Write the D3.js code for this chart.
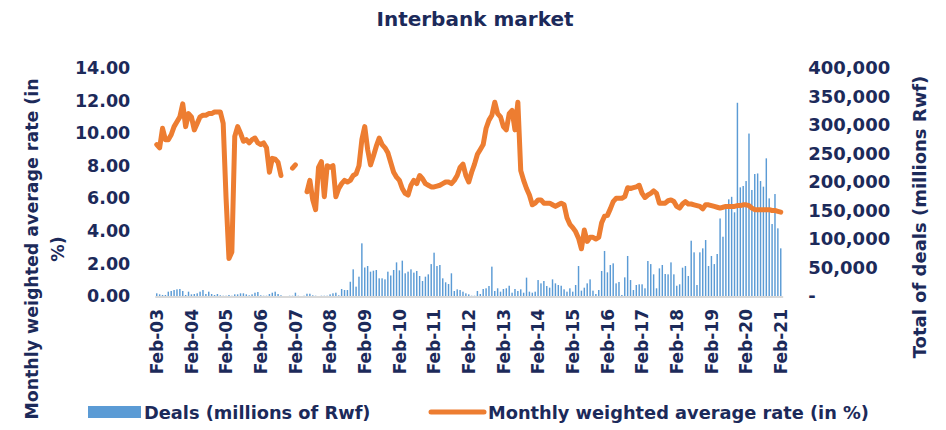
<!DOCTYPE html>
<html>
<head>
<meta charset="utf-8">
<script src="https://cdn.jsdelivr.net/npm/d3@7"></script>
<style>
  html, body { margin: 0; padding: 0; background: #ffffff; }
  svg { display: block; }
  text { font-family: "DejaVu Sans", sans-serif; font-weight: bold; fill: #1c2a5a; }
</style>
</head>
<body>
<svg id="chart" width="946" height="430"></svg>
<script>
// ---------- DATA ----------
const startYear = 2003;          // first category: Feb-03
const monthNames = ["Jan","Feb","Mar","Apr","May","Jun","Jul","Aug","Sep","Oct","Nov","Dec"];
const categoryCount = 217;       // Feb-03 .. Feb-21

const xTickLabels = ["Feb-03","Feb-04","Feb-05","Feb-06","Feb-07","Feb-08","Feb-09","Feb-10","Feb-11",
  "Feb-12","Feb-13","Feb-14","Feb-15","Feb-16","Feb-17","Feb-18","Feb-19","Feb-20","Feb-21"];
const leftTicks = [0, 2, 4, 6, 8, 10, 12, 14];
const rightTicks = [0, 50000, 100000, 150000, 200000, 250000, 300000, 350000, 400000];

// Monthly weighted average rate (in %), null = no data
const rates = [
  9.3, 9.1, 10.3, 9.6, 9.6, 9.9, 10.4, 10.7, 11.0, 11.8,
  10.4, 11.2, 11.0, 10.2, 10.6, 11.0, 11.1, 11.1, 11.2, 11.2,
  11.3, 11.3, 11.3, 10.6, 6.0, 2.3, 2.7, 9.8, 10.4, 10.0,
  9.5, 9.6, 9.4, 9.6, 9.7, 9.4, 9.3, 9.4, 9.1, 7.6,
  8.45, 8.4, 8.2, 7.4, null, null, null, 7.85, 8.05, null,
  null, null, 6.4, 7.1, 5.9, 5.3, 7.9, 8.25, 6.1, 8.0,
  7.9, 8.0, 6.1, 6.6, 6.9, 7.1, 7.0, 7.1, 7.4, 7.5,
  8.0, 9.6, 10.4, 9.0, 8.05, 8.6, 9.2, 9.7, 9.3, 9.1,
  8.8, 8.2, 7.6, 7.3, 7.1, 6.6, 6.3, 6.2, 6.8, 7.1,
  6.9, 7.4, 7.2, 6.9, 6.8, 6.7, 6.7, 6.75, 6.8, 6.9,
  7.0, 7.0, 6.9, 7.1, 7.4, 7.9, 8.1, 7.4, 7.0, 7.6,
  8.1, 8.7, 9.0, 9.3, 10.3, 10.8, 11.1, 11.9, 11.2, 11.0,
  10.4, 10.2, 11.2, 11.4, 10.2, 11.9, 7.7, 7.1, 6.6, 6.2,
  5.6, 5.7, 5.9, 5.9, 5.7, 5.7, 5.7, 5.6, 5.5, 5.6,
  5.7, 5.6, 4.8, 4.4, 4.2, 3.95, 3.55, 2.9, 4.05, 3.35,
  3.6, 3.6, 3.5, 3.6, 4.5, 4.9, 4.95, 5.35, 5.8, 6.0,
  6.0, 6.0, 6.1, 6.65, 6.6, 6.65, 6.7, 6.8, 6.3, 6.05,
  6.2, 6.3, 6.45, 6.3, 5.7, 5.7, 5.7, 5.85, 5.9, 5.8,
  5.5, 5.4, 5.65, 5.8, 5.65, 5.65, 5.6, 5.55, 5.5, 5.35,
  5.6, 5.6, 5.55, 5.5, 5.45, 5.4, 5.45, 5.5, 5.5, 5.5,
  5.5, 5.55, 5.55, 5.6, 5.6, 5.55, 5.4, 5.3, 5.3, 5.3,
  5.3, 5.3, 5.3, 5.25, 5.25, 5.2, 5.15
];

// Deals (millions of Rwf), in thousands of millions as read (x1000 below)
const dealsK = [
  4.7, 2.9, 1.8, 1.8, 7.6, 8.8, 10.5, 11.7, 12.3, 8.8,
  1.8, 7.6, 2.9, 3.5, 4.7, 7.6, 10.5, 3.5, 7.6, 3.5,
  1.8, 3.5, 1.2, 0.5, 0.5, 1.8, 0.5, 2.9, 2.9, 4.7,
  4.7, 2.9, 1.2, 2.9, 5.8, 7.0, 1.2, 0.5, 0.5, 3.5,
  5.8, 7.6, 3.5, 1.2, 0, 0, 0.5, 0.5, 5.8, 0.5,
  0, 0.5, 4.0, 4.0, 1.2, 0.5, 0, 0.5, 0.5, 0.5,
  2.9, 4.7, 5.8, 1.2, 12.3, 10.5, 10.5, 25, 46.8, 16.4,
  33.9, 92.4, 50, 52.6, 42.7, 44.4, 45.6, 31, 31, 29.2,
  42.7, 36, 45.6, 59, 45, 62, 39.8, 42.7, 46.8, 41,
  43.9, 35.1, 26.3, 33.9, 38, 56, 76, 52.6, 54.4, 31,
  24, 21, 39.8, 8.8, 11.7, 10.5, 7.6, 4.7, 2.9, 0.5,
  0.5, 8.8, 3.5, 12.3, 13.5, 17.5, 51.5, 8.8, 13.5, 7.6,
  12.3, 13.5, 18, 5.8, 12.3, 8.8, 11.7, 5.8, 32.2, 7.6,
  5.8, 7.6, 28, 22.2, 26.3, 17.5, 14.6, 29.2, 22.2, 19.3,
  18, 11.7, 7.6, 13.5, 7.6, 19.3, 52.6, 9.4, 14.6, 22.2,
  29.2, 9.4, 3.5, 10.5, 43.9, 79, 41.5, 54.4, 57.3, 22.2,
  24.6, 1.8, 32.7, 70.2, 28, 10.5, 19.3, 20.5, 20.5, 13.5,
  61.4, 56, 38, 13.5, 48.5, 54.4, 38.6, 38, 59, 38,
  18, 20.5, 49.7, 52.6, 35.1, 97, 76.6, 19.3, 76.6, 83.6,
  98.2, 52.6, 70.2, 56, 73.7, 136, 104, 153.8, 169.6, 174,
  146.8, 339, 190.6, 193, 201.7, 285, 186, 214, 215, 201.7,
  191.8, 241.5, 171.3, 126.3, 178.9, 118.7, 83.6
];

// ---------- BUILD ----------
const categories = [];
for (let k = 0; k < categoryCount; k++) {
  const m = (1 + k) % 12;
  const y = startYear + Math.floor((1 + k) / 12);
  categories.push(monthNames[m] + "-" + String(y % 100).padStart(2, "0"));
}
const rows = categories.map((c, k) => ({ cat: c, rate: rates[k], deals: dealsK[k] * 1000 }));

const NAVY = "#1c2a5a";
const svg = d3.select("#chart");
svg.append("rect").attr("width", 946).attr("height", 430).attr("fill", "#fff");

const plotL = 155.3, plotR = 782.2, plotTop = 68, plotBottom = 296;

const x = d3.scaleBand().domain(categories).range([plotL, plotR]).paddingInner(0.5).paddingOuter(0.25);
const yL = d3.scaleLinear().domain([0, 14]).range([plotBottom, plotTop]);
const yR = d3.scaleLinear().domain([0, 400000]).range([plotBottom, plotTop]);

// Bars
svg.append("g").selectAll("rect").data(rows).join("rect")
  .attr("x", d => x(d.cat))
  .attr("width", x.bandwidth())
  .attr("y", d => yR(d.deals))
  .attr("height", d => plotBottom - yR(d.deals))
  .attr("fill", "#5b9bd5");

// Baseline
svg.append("line")
  .attr("x1", plotL).attr("x2", plotR + 1)
  .attr("y1", plotBottom + 1).attr("y2", plotBottom + 1)
  .attr("stroke", "#d9d9d9").attr("stroke-width", 2);

// Rate line
const line = d3.line()
  .defined(d => d.rate != null)
  .x(d => x(d.cat) + x.bandwidth() / 2)
  .y(d => yL(d.rate));
svg.append("path").datum(rows)
  .attr("d", line)
  .attr("fill", "none")
  .attr("stroke", "#ed7d31")
  .attr("stroke-width", 5)
  .attr("stroke-linejoin", "round")
  .attr("stroke-linecap", "round");

// Left axis
const gL = svg.append("g").attr("transform", `translate(${plotL},0)`)
  .call(d3.axisLeft(yL).tickValues(leftTicks).tickFormat(d3.format(".2f")).tickSize(0).tickPadding(25));
gL.select(".domain").remove();
gL.selectAll("text").style("font-size", "17.5px").style("font-family", "DejaVu Sans").attr("fill", NAVY);

// Right axis
const gR = svg.append("g").attr("transform", `translate(${plotR},0)`)
  .call(d3.axisRight(yR).tickValues(rightTicks)
    .tickFormat(d => d === 0 ? "-" : d3.format(",")(d)).tickSize(0).tickPadding(26));
gR.select(".domain").remove();
gR.selectAll("text").style("font-size", "18px").style("font-family", "DejaVu Sans").attr("fill", NAVY);

// Bottom axis
const tickCats = categories.filter(c => xTickLabels.includes(c));
const gB = svg.append("g").attr("transform", `translate(0,${plotBottom})`)
  .call(d3.axisBottom(x).tickValues(tickCats).tickSize(0));
gB.select(".domain").remove();
gB.selectAll("text")
  .attr("transform", "rotate(-90)")
  .attr("text-anchor", "end")
  .attr("x", -13).attr("y", 0).attr("dy", "0.36em")
  .style("font-size", "17px").style("font-family", "DejaVu Sans").attr("fill", NAVY);

// Title
svg.append("text").attr("x", 475).attr("y", 26).attr("text-anchor", "middle")
  .style("font-size", "20px").text("Interbank market");

// Left axis title (two lines)
svg.append("text").attr("transform", "translate(32,249) rotate(-90)")
  .attr("text-anchor", "middle").attr("dy", "0.35em")
  .style("font-size", "17.4px").text("Monthly weighted average rate (in");
svg.append("text").attr("transform", "translate(58,249) rotate(-90)")
  .attr("text-anchor", "middle").attr("dy", "0.35em")
  .style("font-size", "17.4px").text("%)");

// Right axis title
svg.append("text").attr("transform", "translate(920,217) rotate(-90)")
  .attr("text-anchor", "middle").attr("dy", "0.35em")
  .style("font-size", "18px").text("Total of deals (millions Rwf)");

// Legend
svg.append("rect").attr("x", 88).attr("y", 406).attr("width", 53).attr("height", 12).attr("fill", "#5b9bd5");
svg.append("text").attr("x", 144).attr("y", 419).style("font-size", "17.8px").text("Deals (millions of Rwf)");
svg.append("line").attr("x1", 431).attr("x2", 484).attr("y1", 412).attr("y2", 412)
  .attr("stroke", "#ed7d31").attr("stroke-width", 5).attr("stroke-linecap", "round");
svg.append("text").attr("x", 488).attr("y", 419).style("font-size", "17.8px").text("Monthly weighted average rate (in %)");
</script>
</body>
</html>
